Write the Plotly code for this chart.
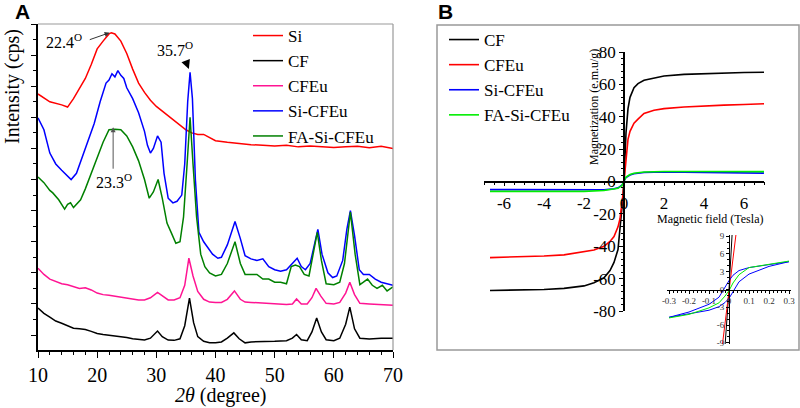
import plotly.graph_objects as go

# ---------------- Panel A data (XRD, arbitrary offset units) ----------------
si_x = [10, 12, 14, 15, 16, 17, 18, 19, 20, 21, 22, 22.4, 23, 24, 25, 26, 27, 28, 29, 30, 31, 32, 33, 34, 35, 36, 37, 38, 39, 40, 42, 44, 46, 48, 50, 52, 54, 56, 58, 60, 62, 64, 66, 68, 70]
si_y = [7.75, 7.5, 7.4, 7.33, 7.6, 7.95, 8.25, 8.7, 9.2, 9.45, 9.68, 9.72, 9.68, 9.45, 9.05, 8.55, 8.1, 7.8, 7.55, 7.35, 7.2, 7.05, 6.9, 6.75, 6.6, 6.5, 6.45, 6.45, 6.35, 6.25, 6.2, 6.15, 6.12, 6.1, 6.08, 6.1, 6.05, 6.08, 6.05, 6.03, 6.05, 6.07, 6.02, 6.07, 6.0]

cf_x = [10, 11, 12, 13, 14, 15, 16, 17, 18, 19, 20, 21, 22, 23, 24, 25, 26, 27, 28, 29, 30.2, 31, 32, 33, 34, 34.8, 35.6, 36.3, 37, 38, 39, 40, 41, 42, 43.1, 44, 45, 46, 48, 50, 52, 53, 53.7, 54.5, 55.5, 56.3, 57.1, 57.9, 58.7, 60, 61, 62, 62.7, 63.5, 64.4, 66, 68, 70]
cf_y = [0.87, 0.7, 0.58, 0.45, 0.38, 0.3, 0.22, 0.2, 0.18, 0.12, 0.05, 0.02, 0.0, -0.03, -0.05, -0.08, -0.12, -0.15, -0.16, -0.1, 0.13, -0.05, -0.16, -0.17, -0.12, 0.3, 1.19, 0.4, -0.05, -0.2, -0.25, -0.25, -0.22, -0.1, 0.07, -0.12, -0.25, -0.22, -0.22, -0.2, -0.18, -0.1, 0.02, -0.15, -0.18, 0.1, 0.55, 0.1, -0.15, -0.18, -0.1, 0.35, 0.9, 0.2, -0.1, -0.13, -0.1, -0.1]

cfeu_x = [10, 11, 12, 13, 14, 15, 16, 17, 18, 19, 20, 21, 22, 23, 24, 25, 26, 27, 28, 29, 30.2, 31, 32, 33, 34, 34.8, 35.5, 36.2, 37, 38, 39, 40, 41, 42, 43.2, 44.2, 45, 46, 48, 50, 52, 53, 53.7, 54.5, 55.5, 56.3, 57, 57.8, 58.7, 60, 61, 62, 62.7, 63.5, 64.4, 66, 68, 70]
cfeu_y = [2.15, 1.95, 1.8, 1.72, 1.65, 1.62, 1.55, 1.5, 1.52, 1.45, 1.35, 1.3, 1.28, 1.25, 1.2, 1.18, 1.15, 1.13, 1.13, 1.2, 1.37, 1.25, 1.13, 1.13, 1.2, 1.6, 2.47, 1.9, 1.4, 1.15, 1.06, 1.05, 1.05, 1.15, 1.42, 1.15, 1.06, 1.05, 1.02, 1.0, 0.98, 1.0, 1.16, 1.0, 1.0, 1.2, 1.5, 1.25, 1.02, 1.0, 1.05, 1.35, 1.7, 1.3, 1.02, 1.0, 0.97, 0.96]

sicfeu_x = [10, 11, 12, 13, 14, 15, 15.6, 16.5, 17.5, 18.5, 19.5, 20.5, 21.5, 22, 22.5, 23, 23.5, 24, 24.5, 25, 26, 27, 28, 28.5, 29, 29.5, 30.2, 30.8, 31.3, 32, 32.8, 33.5, 34.3, 34.8, 35.3, 35.7, 36.1, 36.6, 37.2, 38, 38.6, 39.5, 40.4, 41, 42, 43.3, 44.2, 45, 46, 47, 48, 49, 50, 51, 52, 53, 53.8, 54.5, 55.2, 56, 56.7, 57.3, 58, 59, 59.8, 60.5, 61.5, 62.2, 62.8, 63.5, 64.3, 65, 66, 67, 68, 69, 70]
sicfeu_y = [6.98, 6.6, 5.85, 5.5, 5.3, 5.1, 5.0, 5.2, 5.75, 6.25, 6.8, 7.5, 8.1, 8.2, 8.4, 8.3, 8.5, 8.35, 8.25, 7.95, 7.6, 7.15, 6.55, 6.1, 5.85, 6.0, 6.4, 6.2, 5.2, 4.4, 4.25, 4.3, 4.5, 5.5, 7.5, 8.45, 7.6, 5.0, 3.3, 3.0, 2.85, 2.6, 2.47, 2.5, 2.9, 3.65, 3.1, 2.55, 2.45, 2.4, 2.45, 2.2, 2.1, 2.05, 2.1, 2.3, 2.47, 2.2, 2.1, 2.3, 2.9, 3.4, 2.6, 2.0, 1.85, 1.9, 2.4, 3.4, 4.0, 3.2, 2.1, 1.95, 1.95, 1.8, 1.7, 1.65, 1.6]

fasicfeu_x = [10, 11, 12, 12.5, 13.5, 14.5, 15, 15.5, 16, 16.5, 17.2, 18, 19, 20, 21, 22, 23, 24, 25, 26, 27, 28, 28.8, 29.5, 30.3, 31, 31.8, 32.5, 33.3, 34, 34.6, 35.2, 35.7, 36.2, 36.8, 37.5, 38.2, 39, 40, 41, 42, 43.3, 44.2, 45, 46, 47, 48, 49, 50, 51, 52, 52.8, 53.5, 54.2, 55, 55.8, 56.6, 57.2, 57.9, 58.7, 60, 61, 61.8, 62.8, 63.6, 64.4, 65, 65.7, 66.5, 67.3, 68.2, 69, 70]
fasicfeu_y = [5.08, 4.9, 4.65, 4.57, 4.35, 4.05, 4.2, 4.25, 4.1, 4.2, 4.35, 4.7, 5.2, 5.7, 6.2, 6.6, 6.62, 6.6, 6.4, 6.05, 5.6, 5.0, 4.4, 4.6, 5.0, 4.4, 3.6, 3.3, 2.95, 3.0, 3.8, 5.5, 7.0, 5.5, 3.8, 2.6, 2.2, 2.0, 1.9, 1.95, 2.3, 3.0, 2.3, 1.95, 1.95, 1.95, 1.8, 1.8, 1.7, 1.7, 1.65, 2.2, 2.25, 2.2, 1.95, 1.9, 2.7, 3.3, 2.4, 1.65, 1.62, 1.7, 2.3, 3.95, 2.6, 1.62, 1.7, 1.8, 1.6, 1.5, 1.6, 1.42, 1.55]

a_names = ["Si", "CF", "CFEu", "Si-CFEu", "FA-Si-CFEu"]
a_colors = ["#ff0000", "#000000", "#ff1493", "#0000ff", "#008000"]
a_x = [si_x, cf_x, cfeu_x, sicfeu_x, fasicfeu_x]
a_y = [si_y, cf_y, cfeu_y, sicfeu_y, fasicfeu_y]
a_xticks = [10, 20, 30, 40, 50, 60, 70]

# ---------------- Panel B data (VSM) ----------------
cf_h = [-6.7, -6, -5, -4, -3, -2, -1.5, -1, -0.7, -0.5, -0.3, -0.2, -0.1, -0.05, 0, 0.05, 0.1, 0.2, 0.3, 0.5, 0.7, 1, 1.5, 2, 3, 4, 5, 6, 7]
cf_m = [-67.3, -67.2, -67, -66.7, -66, -64.5, -62.5, -59.5, -55, -50, -42, -30, -18, -9, 0, 15, 30, 45, 52, 58, 60.5, 62.5, 64, 65.2, 66.2, 66.7, 67, 67.3, 67.5]
cfeu_h = [-6.7, -6, -5, -4, -3, -2, -1.5, -1, -0.7, -0.5, -0.3, -0.2, -0.1, -0.05, 0, 0.05, 0.1, 0.2, 0.3, 0.5, 0.7, 1, 1.5, 2, 3, 4, 5, 6, 7]
cfeu_m = [-47, -46.8, -46.5, -46, -45.3, -43.5, -42.3, -40, -37, -34, -28, -23, -14, -8, 0, 8, 16, 26, 31, 36, 38.5, 42, 44, 45, 46, 46.7, 47.2, 47.6, 48]
sicfeu_h = [-6.7, -5, -3, -2, -1, -0.5, -0.3, -0.1, 0, 0.1, 0.3, 0.5, 1, 2, 4, 7]
sicfeu_m = [-5.0, -5.1, -5.3, -5.4, -5.1, -4.5, -3.9, -2.2, 0, 2.5, 4.0, 4.8, 5.6, 5.9, 5.6, 5.2]
fasicfeu_h = [-6.7, -5, -3, -2, -1, -0.5, -0.3, -0.1, 0, 0.1, 0.3, 0.5, 1, 2, 4, 7]
fasicfeu_m = [-6.1, -6.2, -6.2, -6.1, -5.6, -4.8, -4.2, -2.5, 0, 2.8, 4.3, 5.1, 5.9, 6.2, 6.2, 6.1]

b_names = ["CF", "CFEu", "Si-CFEu", "FA-Si-CFEu"]
b_colors = ["#000000", "#ff0000", "#0000ff", "#00ee00"]
b_x = [cf_h, cfeu_h, sicfeu_h, fasicfeu_h]
b_y = [cf_m, cfeu_m, sicfeu_m, fasicfeu_m]
b_xticks = [-6, -4, -2, 0, 2, 4, 6]
b_xticktext = ["-6", "-4", "-2", "0", "2", "4", "6"]
b_yticks = [-80, -60, -40, -20, 0, 20, 40, 60, 80]
b_yticktext = ["-80", "-60", "-40", "-20", "0", "20", "40", "60", "80"]

# inset (low field)
in_cf_h = [-0.02, 0.0, 0.016]
in_cf_m = [-9.6, 0.0, 9.6]
in_cfeu_h = [-0.034, 0.0, 0.036]
in_cfeu_m = [-9.6, 0.0, 9.6]
in_sicfeu_h = [0.3, 0.2, 0.1, 0.05, 0.02, 0.0, -0.02, -0.05, -0.1, -0.2, -0.3, -0.2, -0.1, -0.05, -0.02, 0.0, 0.02, 0.05, 0.1, 0.2, 0.3]
in_sicfeu_m = [4.7, 4.2, 3.7, 3.2, 2.4, 1.5, 0.3, -1.3, -2.5, -3.8, -4.7, -4.1, -3.5, -2.9, -2.2, -1.5, -0.3, 1.3, 2.6, 3.9, 4.7]
in_fasicfeu_h = [-0.3, -0.2, -0.1, -0.05, -0.02, 0.0, 0.02, 0.05, 0.1, 0.2, 0.3]
in_fasicfeu_m = [-4.8, -4.2, -3.1, -2.25, -1.1, -0.2, 1.1, 2.5, 3.7, 4.3, 4.8]
in_x = [in_cf_h, in_cfeu_h, in_sicfeu_h, in_fasicfeu_h]
in_y = [in_cf_m, in_cfeu_m, in_sicfeu_m, in_fasicfeu_m]
in_xticks = [-0.3, -0.2, -0.1, 0, 0.1, 0.2, 0.3]
in_xticktext = ["-0.3", "-0.2", "-0.1", "0", "0.1", "0.2", "0.3"]
in_yticks = [-9, -6, -3, 0, 3, 6, 9]
in_yticktext = ["-9", "-6", "-3", "0", "3", "6", "9"]

W, H = 800, 408
SERIF = "Liberation Serif, Times New Roman, serif"
SANS = "Liberation Sans, Arial, sans-serif"

fig = go.Figure()
for n, c, xs, ys in zip(a_names, a_colors, a_x, a_y):
    fig.add_trace(go.Scatter(x=xs, y=ys, mode="lines", name=n, line=dict(color=c, width=1.5),
                             xaxis="x", yaxis="y", legend="legend"))
for n, c, xs, ys in zip(b_names, b_colors, b_x, b_y):
    fig.add_trace(go.Scatter(x=xs, y=ys, mode="lines", name=n, line=dict(color=c, width=1.6),
                             xaxis="x2", yaxis="y2", legend="legend2"))
for c, xs, ys in zip(b_colors, in_x, in_y):
    fig.add_trace(go.Scatter(x=xs, y=ys, mode="lines", showlegend=False, line=dict(color=c, width=1),
                             xaxis="x3", yaxis="y3"))

# domains (paper fractions from pixel positions)
dxA = [38 / W, 393 / W]
dyA = [1 - 350 / H, 1 - 24 / H]
dx2 = [484 / W, 764 / W]
dy2 = [1 - 311 / H, 1 - 52 / H]
dx3 = [667 / W, 791 / W]
dy3 = [1 - 344 / H, 1 - 235 / H]
rx2, ry2 = [-7, 7], [-80, 80]
rx3, ry3 = [-0.31, 0.31], [-9.2, 9.2]

def zero_pos(dom, rng):
    return dom[0] + (0 - rng[0]) / (rng[1] - rng[0]) * (dom[1] - dom[0])

axis_common = dict(showgrid=False, zeroline=False, showline=True, linecolor="black", linewidth=1.5,
                   ticks="outside", tickcolor="black", automargin=False)

fig.update_layout(
    width=W, height=H, margin=dict(l=0, r=0, t=0, b=0, autoexpand=False),
    font=dict(family=SERIF, color="black"),
    paper_bgcolor="white", plot_bgcolor="rgba(0,0,0,0)",
    xaxis=dict(domain=dxA, range=[10, 70], anchor="y", tickvals=a_xticks, ticklen=6, tickwidth=1.2,
               minor=dict(dtick=2, ticklen=3, ticks="outside", tickcolor="black"),
               tickfont=dict(family=SERIF, size=20, color="black"), **axis_common),
    yaxis=dict(domain=dyA, range=[-0.48, 10.0], anchor="x", dtick=1, tick0=0, ticklen=5, tickwidth=1.2,
               showticklabels=False,
               minor=dict(dtick=0.5, ticklen=3, ticks="outside", tickcolor="black"), **axis_common),
    xaxis2=dict(domain=dx2, range=rx2, anchor="free", position=zero_pos(dy2, ry2),
                tickvals=b_xticks, ticktext=b_xticktext, ticklen=4,
                minor=dict(dtick=0.5, ticklen=3, ticks="outside", tickcolor="black"),
                ticklabelstandoff=2,
                tickfont=dict(family=SERIF, size=17, color="black"), **axis_common),
    yaxis2=dict(domain=dy2, range=ry2, anchor="free", position=zero_pos(dx2, rx2),
                tickvals=b_yticks, ticktext=b_yticktext, ticklen=4,
                minor=dict(dtick=4, ticklen=2.5, ticks="outside", tickcolor="black"),
                tickfont=dict(family=SERIF, size=17, color="black"), **axis_common),
    xaxis3=dict(domain=dx3, range=rx3, anchor="free", position=zero_pos(dy3, ry3),
                tickvals=in_xticks, ticktext=in_xticktext, ticklen=3,
                minor=dict(dtick=0.02, ticklen=2, ticks="outside", tickcolor="black"),
                tickfont=dict(family=SERIF, size=9, color="#333"), **{**axis_common, "linewidth": 1}),
    yaxis3=dict(domain=dy3, range=ry3, anchor="free", position=zero_pos(dx3, rx3),
                tickvals=in_yticks, ticktext=in_yticktext, ticklen=3,
                minor=dict(dtick=1, ticklen=2, ticks="outside", tickcolor="black"),
                tickfont=dict(family=SERIF, size=9, color="#333"), **{**axis_common, "linewidth": 1}),
    legend=dict(x=248 / W, y=1 - 18 / H, xanchor="left", yanchor="top", bgcolor="rgba(0,0,0,0)",
                font=dict(family=SERIF, size=17, color="black"), tracegroupgap=0),
    legend2=dict(x=444 / W, y=1 - 22 / H, xanchor="left", yanchor="top", bgcolor="rgba(0,0,0,0)",
                 font=dict(family=SERIF, size=17, color="black"), tracegroupgap=0),
    showlegend=True,
)

shapes = [
    dict(type="line", xref="paper", yref="paper", x0=dxA[0], x1=dxA[1], y0=dyA[1], y1=dyA[1],
         line=dict(color="#999", width=1.2)),
    dict(type="line", xref="paper", yref="paper", x0=dxA[1], x1=dxA[1], y0=dyA[0], y1=dyA[1],
         line=dict(color="#999", width=1.2)),
    dict(type="rect", xref="paper", yref="paper", x0=437 / W, x1=799 / W, y0=1 - 350 / H, y1=1 - 25 / H,
         line=dict(color="#999", width=1.5)),
]
fig.update_layout(shapes=shapes)

def txt(xp, yp, text, size, family=SERIF, angle=0):
    return dict(x=xp / W, y=1 - yp / H, xref="paper", yref="paper", text=text, textangle=angle,
                xanchor="center", yanchor="middle", showarrow=False,
                font=dict(family=family, size=size, color="black"))

ann = []
# peak labels panel A
ann.append(txt(64, 41, "22.4<sup>O</sup>", 16))
ann.append(dict(x=22.1, y=9.72, ax=18.5, ay=9.48, xref="x", yref="y", axref="x", ayref="y", text="",
                showarrow=True, arrowhead=2, arrowsize=1, arrowwidth=1, arrowcolor="#333"))
ann.append(txt(175, 49, "35.7<sup>O</sup>", 16))
ann.append(dict(x=35.5, y=8.55, ax=35.0, ay=8.8, xref="x", yref="y", axref="x", ayref="y", text="",
                showarrow=True, arrowhead=2, arrowsize=1.2, arrowwidth=1.5, arrowcolor="black"))
ann.append(txt(114, 181, "23.3<sup>O</sup>", 16))
ann.append(dict(x=22.7, y=6.68, ax=22.7, ay=5.3, xref="x", yref="y", axref="x", ayref="y", text="",
                showarrow=True, arrowhead=2, arrowsize=1, arrowwidth=1, arrowcolor="#555"))
# axis titles
ann.append(txt(12, 87, "Intensity (cps)", 20, angle=-90))
ann.append(txt(220, 395, "<i>2θ</i> (degree)", 20))
ann.append(txt(710, 219, "Magnetic field (Tesla)", 12))
ann.append(txt(594, 107, "Magnetization (e.m.u/g)", 12, angle=-90))
# panel letters
ann.append(txt(22, 11, "<b>A</b>", 21, family=SANS))
ann.append(txt(445, 11, "<b>B</b>", 21, family=SANS))
fig.update_layout(annotations=ann)

fig.write_html("out.html", config={"displayModeBar": False},
               post_script="document.body.style.margin='0px';")
